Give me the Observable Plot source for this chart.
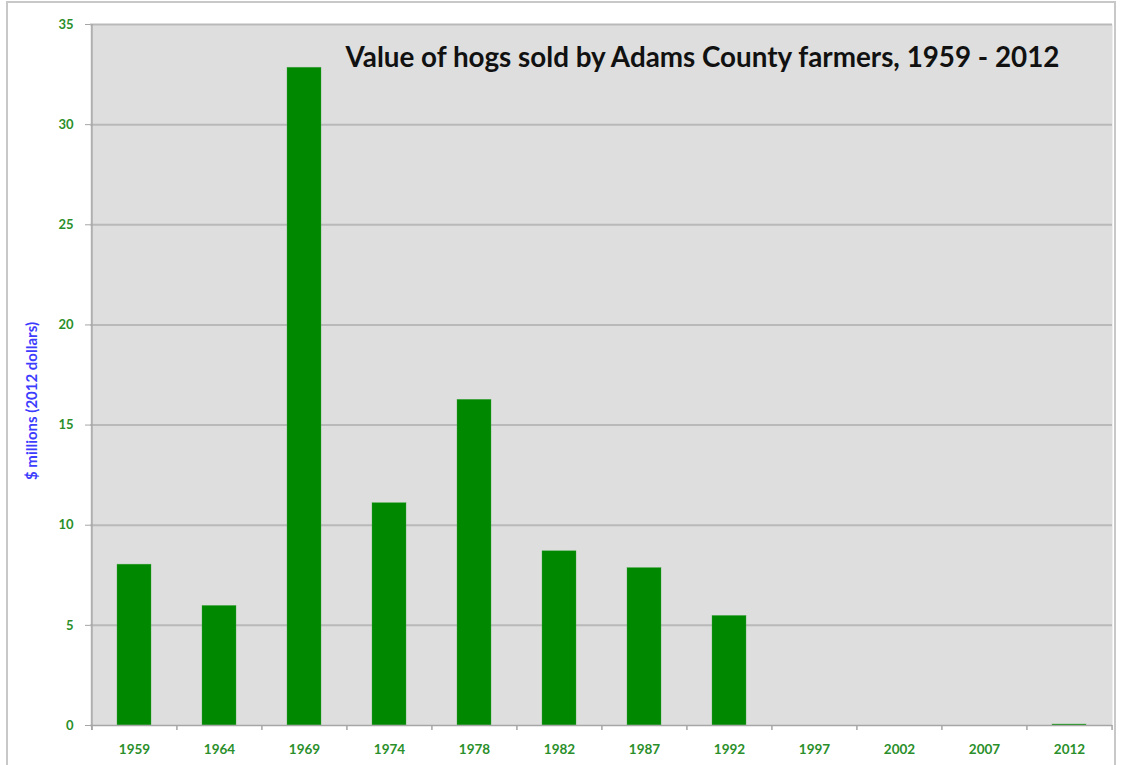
<!DOCTYPE html>
<html>
<head>
<meta charset="utf-8">
<script src="https://cdn.jsdelivr.net/npm/d3@7"></script>
<script src="https://cdn.jsdelivr.net/npm/@observablehq/plot@0.6"></script>
<style>
  html, body { margin: 0; padding: 0; background: #fff; overflow: hidden; }
  #wrap { position: relative; width: 1121px; height: 765px; }
  #border { position: absolute; left: 6px; top: 1px; width: 1110px; height: 800px; border: 2px solid #c8c8c8; box-sizing: border-box; }
  #chart { position: absolute; left: 0; top: 0; }
  #chart svg { background: transparent; }
</style>
</head>
<body>
<div id="wrap">
  <div id="border"></div>
  <div id="chart"></div>
</div>
<script>
// Census years and hog sales value ($ millions, 2012 dollars)
const years = ["1959", "1964", "1969", "1974", "1978", "1982", "1987", "1992", "1997", "2002", "2007", "2012"];
const values = [8.03, 5.97, 32.84, 11.1, 16.26, 8.7, 7.86, 5.47, 0, 0, 0, 0.05];
const yTicks = [0, 5, 10, 15, 20, 25, 30, 35];
const gridTicks = [5, 10, 15, 20, 25, 30, 35];
const title = "Value of hogs sold by Adams County farmers, 1959 - 2012";
const yLabel = "$ millions (2012 dollars)";

const data = years.map((year, i) => ({year, value: values[i]}));

const W = 1121, H = 765;
const mL = 90, mR = 9, mT = 24, mB = 40;
const halfStep = (W - mL - mR) / years.length / 2;

const green = "#008800";
const tickGreen = "#2a8f2a";
const axisGray = "#a6a6a6";

const plot = Plot.plot({
  width: W,
  height: H,
  marginLeft: mL,
  marginRight: mR,
  marginTop: mT,
  marginBottom: mB,
  style: {fontFamily: "Lato, 'Open Sans', sans-serif", background: "transparent"},
  x: {domain: years, paddingInner: 0.6, paddingOuter: 0.3, label: null},
  y: {domain: [0, 35], label: null},
  marks: [
    Plot.frame({fill: "#dedede", stroke: null}),
    Plot.ruleY(gridTicks, {stroke: "#b9b9b9", strokeWidth: 2}),
    Plot.barY(data, {x: "year", y: "value", fill: green, stroke: "#3fa83f", strokeWidth: 0.6, strokeOpacity: 0.6}),
    Plot.ruleY([0], {stroke: axisGray, strokeWidth: 1.5}),
    // left axis line, extending slightly below the baseline
    Plot.ruleX([years[0]], {dx: -halfStep, stroke: axisGray, strokeWidth: 1.5, insetBottom: -5}),
    // category boundary ticks below the baseline
    Plot.ruleX(years, {x: d => d, y1: 0, y2: 0, dx: -halfStep, stroke: axisGray, strokeWidth: 1.5, insetBottom: -5}),
    Plot.ruleX([years[years.length - 1]], {y1: 0, y2: 0, dx: halfStep, stroke: axisGray, strokeWidth: 1.5, insetBottom: -5}),
    Plot.axisY({ticks: yTicks, tickSize: 5, tickPadding: 12, stroke: axisGray, fill: tickGreen, fontSize: 13, fontWeight: 700, label: null}),
    Plot.axisX({tickSize: 0, tickPadding: 19, fill: tickGreen, fontSize: 13.5, fontWeight: 700, label: null}),
    Plot.text([title], {frameAnchor: "top-right", dx: -53, dy: 23, lineAnchor: "top", textAnchor: "end", fontSize: 27.8, fontWeight: 700, fill: "#111"})
  ]
});

document.getElementById("chart").appendChild(plot);

// rotated y-axis title
d3.select(plot).append("text")
  .attr("transform", "translate(37,401) rotate(-90)")
  .attr("text-anchor", "middle")
  .attr("fill", "#3d3dff")
  .attr("font-size", 15)
  .attr("font-weight", 700)
  .attr("font-family", "Lato, 'Open Sans', sans-serif")
  .text(yLabel);
</script>
</body>
</html>
